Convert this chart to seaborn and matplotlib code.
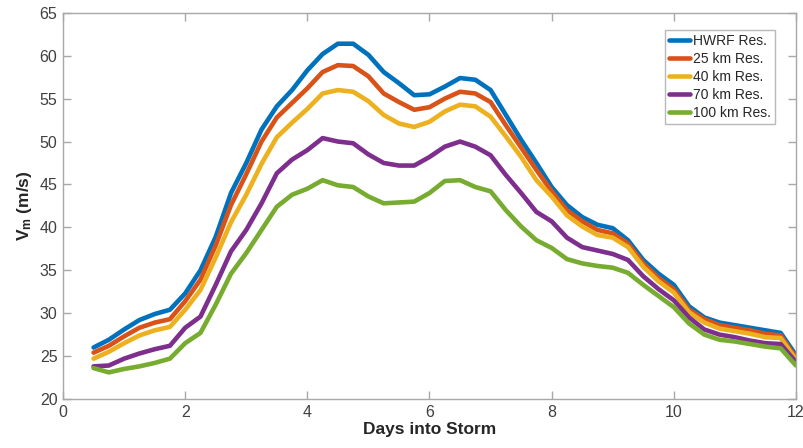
import numpy as np
import pandas as pd
import matplotlib
matplotlib.use("Agg")
import matplotlib.pyplot as plt
import seaborn as sns

# Time axis: 6-hourly output, days into the storm
days = [0.5, 0.75, 1.0, 1.25, 1.5, 1.75, 2.0, 2.25, 2.5, 2.75, 3.0, 3.25,
        3.5, 3.75, 4.0, 4.25, 4.5, 4.75, 5.0, 5.25, 5.5, 5.75, 6.0, 6.25,
        6.5, 6.75, 7.0, 7.25, 7.5, 7.75, 8.0, 8.25, 8.5, 8.75, 9.0, 9.25,
        9.5, 9.75, 10.0, 10.25, 10.5, 10.75, 11.0, 11.25, 11.5, 11.75, 12.0]

# Maximum wind speed Vm (m/s) at each grid resolution
hwrf = [26.0, 26.9, 28.1, 29.2, 29.9, 30.4, 32.3, 35.0, 38.9, 44.0, 47.5, 51.4,
        54.1, 56.0, 58.3, 60.2, 61.4, 61.4, 60.1, 58.1, 56.8, 55.4, 55.5, 56.4,
        57.4, 57.2, 56.0, 53.1, 50.2, 47.5, 44.7, 42.6, 41.2, 40.3, 39.9, 38.5,
        36.2, 34.6, 33.3, 30.8, 29.5, 28.9, 28.6, 28.3, 28.0, 27.7, 25.1]
res25 = [25.4, 26.2, 27.3, 28.3, 28.9, 29.3, 31.4, 33.9, 37.9, 42.6, 46.2, 50.0,
         52.8, 54.5, 56.2, 58.1, 58.9, 58.8, 57.6, 55.6, 54.6, 53.7, 54.0, 55.0,
         55.8, 55.6, 54.6, 51.9, 49.3, 46.7, 44.2, 42.0, 40.7, 39.7, 39.3, 38.1,
         35.8, 34.1, 32.8, 30.4, 29.3, 28.6, 28.3, 28.0, 27.6, 27.4, 24.8]
res40 = [24.7, 25.5, 26.5, 27.4, 28.0, 28.4, 30.4, 32.7, 36.5, 40.6, 43.8, 47.4,
         50.5, 52.2, 53.8, 55.6, 56.0, 55.8, 54.7, 53.1, 52.1, 51.7, 52.3, 53.5,
         54.3, 54.1, 52.9, 50.6, 48.2, 45.5, 43.6, 41.4, 40.1, 39.1, 38.8, 37.7,
         35.4, 33.7, 32.4, 30.1, 28.9, 28.2, 27.9, 27.6, 27.2, 27.1, 24.6]
res70 = [23.8, 23.9, 24.7, 25.3, 25.8, 26.2, 28.3, 29.6, 33.3, 37.2, 39.7, 42.8,
         46.3, 47.9, 49.0, 50.4, 50.0, 49.8, 48.5, 47.5, 47.2, 47.2, 48.2, 49.4,
         50.0, 49.4, 48.4, 46.1, 44.0, 41.8, 40.7, 38.8, 37.7, 37.3, 36.9, 36.2,
         34.3, 32.8, 31.5, 29.5, 28.1, 27.5, 27.2, 26.8, 26.5, 26.4, 24.3]
res100 = [23.6, 23.1, 23.5, 23.8, 24.2, 24.7, 26.5, 27.7, 31.0, 34.6, 37.0, 39.7,
          42.4, 43.8, 44.5, 45.5, 44.9, 44.7, 43.6, 42.8, 42.9, 43.0, 44.0, 45.4,
          45.5, 44.7, 44.2, 42.0, 40.1, 38.5, 37.6, 36.3, 35.8, 35.5, 35.3, 34.7,
          33.3, 32.0, 30.7, 28.8, 27.5, 26.9, 26.7, 26.4, 26.1, 25.9, 23.9]

labels = ["HWRF Res.", "25 km Res.", "40 km Res.", "70 km Res.", "100 km Res."]
colors = ["#0072BD", "#D95319", "#EDB120", "#7E2F8E", "#77AC30"]

series = [hwrf, res25, res40, res70, res100]
df = pd.concat(
    [pd.DataFrame({"day": days, "vm": vals, "run": lab})
     for lab, vals in zip(labels, series)],
    ignore_index=True,
)

sns.set_style("white")
plt.rcParams["font.family"] = ["Liberation Sans", "DejaVu Sans"]
plt.rcParams["mathtext.fontset"] = "custom"
plt.rcParams["mathtext.rm"] = "Liberation Sans"
plt.rcParams["mathtext.bf"] = "Liberation Sans:bold"

fig = plt.figure(figsize=(8.04, 4.48), dpi=100)
ax = fig.add_axes([0.0784, 0.1094, 0.9116, 0.862])

sns.lineplot(data=df, x="day", y="vm", hue="run", hue_order=labels,
             palette=colors, linewidth=3.3, ax=ax, legend=False,
             estimator=None, sort=False)

ax.set_xlim(0, 12)
ax.set_ylim(20, 65)
ax.set_xticks(np.arange(0, 13, 2))
ax.set_yticks(np.arange(20, 66, 5))

for s in ax.spines.values():
    s.set_visible(True)
    s.set_color("#a8a8a8")
    s.set_linewidth(1.0)
ax.tick_params(direction="in", length=6, width=1, color="#a8a8a8",
               labelsize=11.5, labelcolor="#404040",
               top=True, right=True, left=True, bottom=True, pad=4)

ax.set_xlabel("Days into Storm", fontsize=12.5, fontweight="bold",
              color="#262626", labelpad=2)
ax.set_ylabel(r"$\mathbf{V_m}$ (m/s)", fontsize=12.5, fontweight="bold",
              color="#262626", labelpad=4)

handles = [plt.Line2D([], [], color=c, linewidth=3.3) for c in colors]
leg = ax.legend(handles, labels, loc="upper right",
                bbox_to_anchor=(0.972, 0.956), fontsize=10,
                frameon=True, fancybox=False, edgecolor="#a8a8a8",
                handlelength=1.5, handletextpad=0.25, borderpad=0.3,
                labelspacing=0.28, borderaxespad=0.0)
leg.get_frame().set_linewidth(1.0)
for t in leg.get_texts():
    t.set_color("#262626")

fig.savefig("out.png", dpi=100)
